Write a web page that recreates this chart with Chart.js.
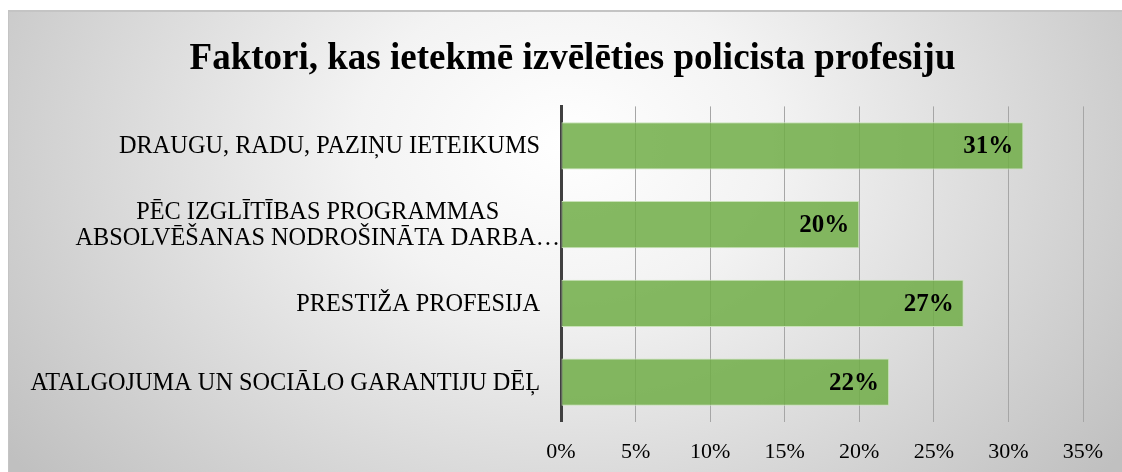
<!DOCTYPE html>
<html>
<head>
<meta charset="utf-8">
<script src="https://cdn.jsdelivr.net/npm/chart.js@4.4.1/dist/chart.umd.min.js"></script>
<style>
  html, body { margin: 0; padding: 0; background: #ffffff; overflow: hidden; }
  body { width: 1122px; height: 472px; position: relative; }
  #box {
    position: absolute; left: 8px; top: 10px; width: 1114px; height: 472px;
    box-sizing: border-box;
    border-top: 2px solid #c4c4c4; border-left: 1px solid #c4c4c4;
    background: radial-gradient(ellipse 62% 112% at 50% 28%, #ffffff 0%, #f3f3f3 30%, #c0c0c0 100%);
  }
  canvas { position: absolute; left: 0; top: 0; }
</style>
</head>
<body>
<div id="box"><canvas id="c" width="1113" height="470"></canvas></div>
<script>
const titleText = 'Faktori, kas ietekmē izvēlēties policista profesiju';
const categories = [
  ['DRAUGU, RADU, PAZIŅU IETEIKUMS'],
  ['PĒC IZGLĪTĪBAS PROGRAMMAS', 'ABSOLVĒŠANAS NODROŠINĀTA DARBA…'],
  ['PRESTIŽA PROFESIJA'],
  ['ATALGOJUMA UN SOCIĀLO GARANTIJU DĒĻ']
];
const values = [31, 20, 27, 22];
const xTicks = [0, 5, 10, 15, 20, 25, 30, 35];

const SERIF = '"Liberation Serif", "Times New Roman", serif';

const labelsPlugin = {
  id: 'customLabels',
  afterDraw(chart) {
    const ctx = chart.ctx;
    const yScale = chart.scales.y;
    const area = chart.chartArea;
    ctx.save();
    ctx.fillStyle = '#000';
    // title, centred on the whole chart box
    const tb = chart.titleBlock;
    ctx.font = 'bold 37px ' + SERIF;
    ctx.textAlign = 'center';
    ctx.textBaseline = 'middle';
    ctx.fillText(titleText, chart.width / 2 + 7, (tb.top + tb.bottom) / 2);
    // category labels
    ctx.font = '24.3px ' + SERIF;
    categories.forEach((lines, i) => {
      const yc = yScale.getPixelForTick(i);
      const widths = lines.map(l => ctx.measureText(l).width);
      const w = Math.max(...widths);
      const right = area.left - 21 + (lines.length > 1 ? 20 : 0);
      const cx = right - w / 2;
      const lh = 26;
      const y0 = yc - (lines.length - 1) * lh / 2 + 1;
      lines.forEach((l, k) => ctx.fillText(l, cx, y0 + k * lh));
    });
    // data labels
    ctx.font = 'bold 25px ' + SERIF;
    ctx.textAlign = 'right';
    const meta = chart.getDatasetMeta(0);
    meta.data.forEach((bar, i) => {
      ctx.fillText(values[i] + '%', bar.x - 10, bar.y + 1);
    });
    ctx.restore();
  }
};

new Chart(document.getElementById('c'), {
  type: 'bar',
  data: {
    labels: categories,
    datasets: [{
      data: values,
      backgroundColor: 'rgba(112,173,71,0.85)',
      borderColor: '#c9e2b8',
      borderWidth: 1,
      borderSkipped: false,
      categoryPercentage: 0.6,
      barPercentage: 1.0
    }]
  },
  options: {
    indexAxis: 'y',
    responsive: false,
    animation: false,
    layout: { padding: { left: 0, right: 39, top: 0, bottom: 0 } },
    plugins: {
      legend: { display: false },
      tooltip: { enabled: false },
      title: {
        display: true,
        text: titleText,
        color: 'rgba(0,0,0,0)',
        font: { family: SERIF, size: 37, weight: 'bold' },
        padding: { top: 21, bottom: 29 }
      }
    },
    scales: {
      x: {
        min: 0, max: 35,
        afterBuildTicks(scale) { scale.ticks = xTicks.map(v => ({ value: v })); },
        ticks: {
          color: '#000',
          font: { family: SERIF, size: 22 },
          padding: 17,
          callback: v => v + '%'
        },
        grid: { color: '#a6a6a6', lineWidth: 1, drawTicks: false },
        border: { display: false }
      },
      y: {
        ticks: { display: false },
        grid: { display: false, drawTicks: false },
        border: { display: true, color: '#404040', width: 3 },
        afterFit(scale) { scale.width = 552; }
      }
    }
  },
  plugins: [labelsPlugin]
});
</script>
</body>
</html>
